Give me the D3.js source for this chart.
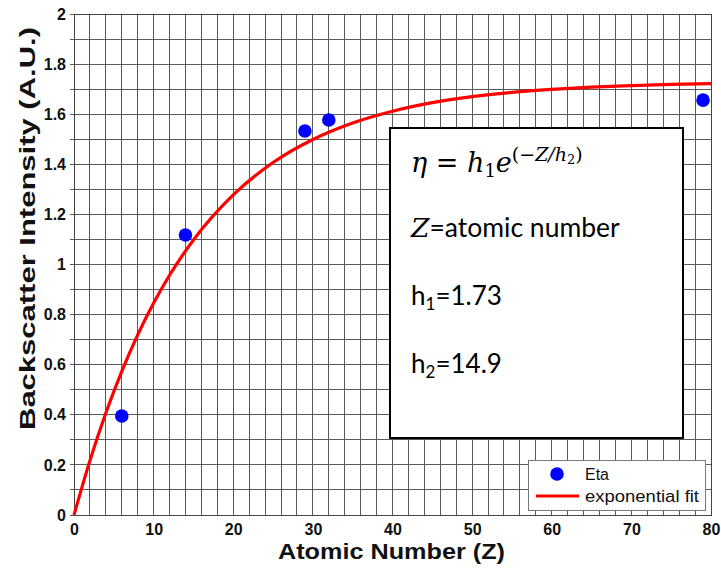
<!DOCTYPE html>
<html><head><meta charset="utf-8">
<script src="https://cdn.jsdelivr.net/npm/d3@7"></script>
<style>body{margin:0;background:#fff;} svg{display:block;}</style>
</head><body>
<svg id="c" width="721" height="569"></svg>
<script>
// Data
const etaZ = [6, 14, 29, 32, 79];
const etaVal = [0.395, 1.118, 1.533, 1.577, 1.656];
const fitZ = [0, 2, 4, 6, 8, 10, 12, 15, 20, 25, 30, 35, 40, 45, 50, 55, 60, 65, 70, 75, 80];
const fitVal = [0, 0.217, 0.407, 0.573, 0.719, 0.846, 0.957, 1.098, 1.278, 1.407, 1.499, 1.565, 1.612, 1.646, 1.670, 1.687, 1.699, 1.708, 1.714, 1.719, 1.722];
const xTicks = [0, 10, 20, 30, 40, 50, 60, 70, 80];
const yTicks = [0, 0.2, 0.4, 0.6, 0.8, 1, 1.2, 1.4, 1.6, 1.8, 2];
const legendLabels = ["Eta", "exponential fit"];

const svg = d3.select("#c");
const L = 74, R = 711, T = 14, B = 515;
const x = d3.scaleLinear().domain([0, 80]).range([L, R]);
const y = d3.scaleLinear().domain([0, 2]).range([B, T]);
const arial = "Liberation Sans, Arial, sans-serif";

// grid
const g = svg.append("g");
g.selectAll("line.v").data(d3.range(0, 81, 2)).join("line")
  .attr("x1", d => x(d)).attr("x2", d => x(d)).attr("y1", T).attr("y2", B)
  .attr("stroke", "#5a5a5a").attr("stroke-width", 1).attr("shape-rendering", "crispEdges");
g.selectAll("line.h").data(d3.range(0, 21, 1).map(d => d / 10)).join("line")
  .attr("x1", L).attr("x2", R).attr("y1", d => y(d)).attr("y2", d => y(d))
  .attr("stroke", "#5a5a5a").attr("stroke-width", 1).attr("shape-rendering", "crispEdges");

// axes
const yAxis = d3.axisLeft(y).tickValues(yTicks).tickFormat(d3.format("~g")).tickSize(0).tickPadding(8);
const ya = svg.append("g").attr("transform", `translate(${L},0)`).call(yAxis);
ya.select(".domain").attr("stroke", "#333");
ya.selectAll("text").attr("font-family", arial).attr("font-size", 16).attr("font-weight", "bold").attr("fill", "#111");
svg.append("g").selectAll("line").data(d3.range(0, 21).map(d => d / 10)).join("line")
  .attr("x1", L - 4).attr("x2", L).attr("y1", d => y(d)).attr("y2", d => y(d))
  .attr("stroke", "#5a5a5a").attr("shape-rendering", "crispEdges");

const xAxis = d3.axisBottom(x).tickValues(xTicks).tickSize(0).tickPadding(9);
const xa = svg.append("g").attr("transform", `translate(0,${B})`).call(xAxis);
xa.select(".domain").attr("stroke", "#333");
xa.selectAll("text").attr("font-family", arial).attr("font-size", 16).attr("font-weight", "bold").attr("fill", "#111");

// frame
svg.append("rect").attr("x", L).attr("y", T).attr("width", R - L).attr("height", B - T)
  .attr("fill", "none").attr("stroke", "#444").attr("stroke-width", 1).attr("shape-rendering", "crispEdges");

// axis titles
svg.append("text").attr("x", 278).attr("y", 559)
  .attr("font-family", arial).attr("font-size", 22).attr("font-weight", "bold")
  .attr("textLength", 227).attr("lengthAdjust", "spacingAndGlyphs")
  .attr("fill", "#111").text("Atomic Number (Z)");
svg.append("text").attr("transform", "rotate(-90)").attr("x", -430).attr("y", 35)
  .attr("font-family", arial).attr("font-size", 22).attr("font-weight", "bold")
  .attr("textLength", 403).attr("lengthAdjust", "spacingAndGlyphs")
  .attr("fill", "#111").text("Backscatter Intensity (A.U.)");

// fit line
const fitData = fitZ.map((z, i) => [z, fitVal[i]]);
svg.append("path").datum(fitData)
  .attr("d", d3.line().x(d => x(d[0])).y(d => y(d[1])).curve(d3.curveMonotoneX))
  .attr("fill", "none").attr("stroke", "#ff0000").attr("stroke-width", 3.2);

// points
svg.append("g").selectAll("circle").data(etaZ.map((z, i) => [z, etaVal[i]])).join("circle")
  .attr("cx", d => x(d[0])).attr("cy", d => y(d[1])).attr("r", 6.8).attr("fill", "#0000ff");

// text box
const bx = 390, by = 128, bw = 293, bh = 310;
svg.append("rect").attr("x", bx).attr("y", by).attr("width", bw).attr("height", bh)
  .attr("fill", "#fff").attr("stroke", "#000").attr("stroke-width", 2);
const serif = "DejaVu Serif, Liberation Serif, serif";
const sans = "Lato, Open Sans, sans-serif";
const eq = svg.append("text").attr("x", 411).attr("y", 172).attr("font-family", serif).attr("font-size", 27).attr("fill", "#000");
eq.append("tspan").attr("font-style", "italic").text("η");
eq.append("tspan").text(" = ");
eq.append("tspan").attr("font-style", "italic").text("h");
eq.append("tspan").attr("font-size", 18).attr("dy", 5).text("1");
eq.append("tspan").attr("font-style", "italic").attr("dy", -5).text("e");
eq.append("tspan").attr("font-size", 19).attr("dy", -11).text("(−");
eq.append("tspan").attr("font-size", 19).attr("font-style", "italic").text("Z/h");
eq.append("tspan").attr("font-size", 13).attr("dy", 3).text("2");
eq.append("tspan").attr("font-size", 19).attr("dy", -3).text(")");

const t2 = svg.append("text").attr("x", 411).attr("y", 237).attr("font-size", 26.5).attr("fill", "#000");
t2.append("tspan").attr("font-family", serif).attr("font-style", "italic").text("Z");
t2.append("tspan").attr("font-family", sans).text("=atomic number");

const t3 = svg.append("text").attr("x", 411).attr("y", 305).attr("font-family", sans).attr("font-size", 26).attr("fill", "#000");
t3.append("tspan").text("h");
t3.append("tspan").attr("font-size", 17).attr("dy", 5).text("1");
t3.append("tspan").attr("dy", -5).text("=1.73");

const t4 = svg.append("text").attr("x", 411).attr("y", 373).attr("font-family", sans).attr("font-size", 26).attr("fill", "#000");
t4.append("tspan").text("h");
t4.append("tspan").attr("font-size", 17).attr("dy", 5).text("2");
t4.append("tspan").attr("dy", -5).text("=14.9");

// legend
const lg = svg.append("g");
lg.append("rect").attr("x", 528.5).attr("y", 460.5).attr("width", 177).attr("height", 50)
  .attr("fill", "#fff").attr("stroke", "#777").attr("stroke-width", 1);
lg.append("circle").attr("cx", 557).attr("cy", 474).attr("r", 6.8).attr("fill", "#0000ff");
lg.append("line").attr("x1", 536).attr("x2", 579).attr("y1", 496).attr("y2", 496).attr("stroke", "#ff0000").attr("stroke-width", 3.2);
lg.selectAll("text.l").data(legendLabels).join("text")
  .attr("x", 585).attr("y", (d, i) => 480 + i * 22)
  .attr("font-family", arial).attr("font-size", 16).attr("fill", "#111")
  .attr("textLength", (d, i) => i === 1 ? 114 : null).attr("lengthAdjust", "spacingAndGlyphs")
  .text(d => d);
</script>
</body></html>
